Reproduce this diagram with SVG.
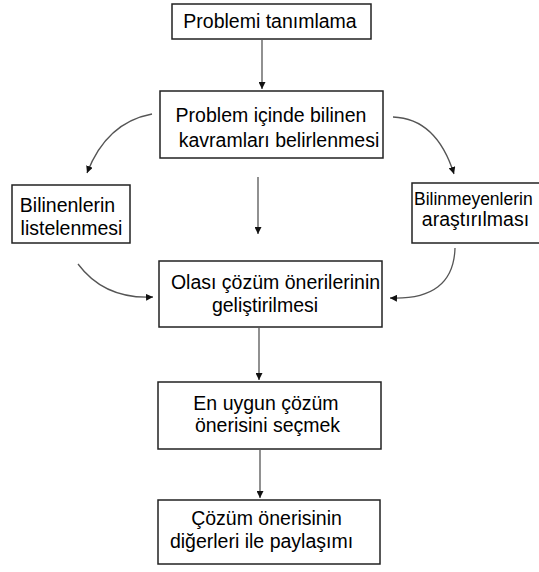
<svg xmlns="http://www.w3.org/2000/svg" width="539" height="572" viewBox="0 0 539 572">
<defs>
<marker id="ah" viewBox="0 0 10 10" refX="10" refY="5" markerWidth="7" markerHeight="7" markerUnits="userSpaceOnUse" orient="auto">
<path d="M0,0 L10,5 L0,10 z" fill="#111"/>
</marker>
<style>
.box{fill:#fff;stroke:#222;stroke-width:1.5}
.t{font-family:"Liberation Sans",Arial,sans-serif;font-size:19.5px;fill:#000;text-anchor:middle}
.c{fill:none;stroke:#555;stroke-width:1.3;marker-end:url(#ah)}
</style>
</defs>
<rect width="539" height="572" fill="#fff"/>
<g id="connectors">
<path class="c" d="M262,40 L262,89"/>
<path class="c" d="M152,114 Q106.5,122.5 87,173"/>
<path class="c" d="M393,117 Q436.5,118.5 454,174"/>
<path class="c" d="M258,177 L258,234"/>
<path class="c" d="M78,264 Q104.5,299.5 153,297"/>
<path class="c" d="M455,248 Q453.5,300.5 390,298"/>
<path class="c" d="M259,328 L259,380"/>
<path class="c" d="M260,450 L260,498"/>
</g>
<g id="n1">
<rect class="box" x="172" y="4" width="199" height="35"/>
<text class="t" x="270" y="28">Problemi tanımlama</text>
</g>
<g id="n2">
<rect class="box" x="160" y="91" width="223" height="67"/>
<text class="t" x="271" y="122">Problem içinde bilinen</text>
<text class="t" x="279" y="147">kavramları belirlenmesi</text>
</g>
<g id="n3">
<rect class="box" x="12" y="185" width="118" height="58"/>
<text class="t" x="67.5" y="212">Bilinenlerin</text>
<text class="t" x="71.5" y="235">listelenmesi</text>
</g>
<g id="n4">
<rect class="box" x="412" y="183" width="130" height="60"/>
<text class="t" x="414" y="205" style="text-anchor:start;font-size:17.5px">Bilinmeyenlerin</text>
<text class="t" x="475.5" y="226">araştırılması</text>
</g>
<g id="n5">
<rect class="box" x="159" y="261" width="223" height="66"/>
<text class="t" x="275.5" y="289">Olası çözüm önerilerinin</text>
<text class="t" x="265" y="312">geliştirilmesi</text>
</g>
<g id="n6">
<rect class="box" x="158" y="382" width="223" height="67"/>
<text class="t" x="266" y="410">En uygun çözüm</text>
<text class="t" x="267.5" y="432">önerisini seçmek</text>
</g>
<g id="n7">
<rect class="box" x="158" y="500" width="222" height="64"/>
<text class="t" x="266.5" y="525">Çözüm önerisinin</text>
<text class="t" x="261.5" y="548">diğerleri ile paylaşımı</text>
</g>
</svg>
